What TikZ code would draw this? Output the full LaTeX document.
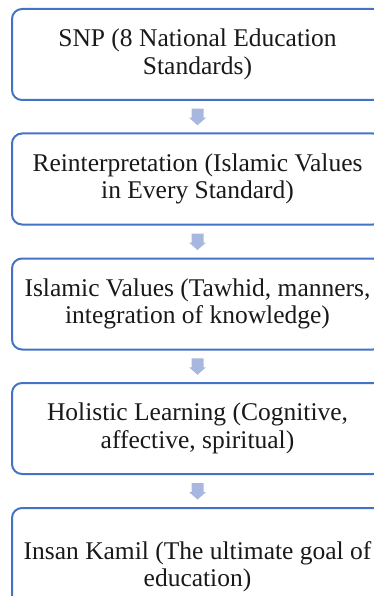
\documentclass[tikz,border=0pt]{standalone}
\usepackage{fontspec}
\setmainfont{Liberation Serif}
\usetikzlibrary{calc}
\definecolor{boxblue}{HTML}{4472C4}
\definecolor{arrowblue}{HTML}{A7B7DE}
\tikzset{
  stagebox/.style={draw=boxblue, line width=2pt, rounded corners=10pt, fill=white,
    minimum width=371pt, minimum height=91pt, align=center, inner sep=0pt,
    font=\fontsize{25.5}{27.5}\selectfont, text=black!90,
    execute at begin node={\vspace*{4pt}}},
  blockarrow/.style={fill=arrowblue, draw=none}
}
\newcommand{\downblock}[1]{%
  \fill[blockarrow] ($(#1)+(-6,-8)$) -- ($(#1)+(6,-8)$) -- ($(#1)+(6,1)$) -- ($(#1)+(8.5,1)$)
    -- ($(#1)+(0,8.5)$) -- ($(#1)+(-8.5,1)$) -- ($(#1)+(-6,1)$) -- cycle;}
\begin{document}
\begin{tikzpicture}[x=1pt,y=-1pt]
\useasboundingbox (0,0) rectangle (374,596);
\clip (0,0) rectangle (374,596);
\node[stagebox] (b1) at (197.5,54.5) {SNP (8 National Education\\Standards)};
\node[stagebox] (b2) at (197.5,179) {Reinterpretation (Islamic Values\\in Every Standard)};
\node[stagebox] (b3) at (197.5,304) {Islamic Values (Tawhid, manners,\\integration of knowledge)};
\node[stagebox] (b4) at (197.5,428.5) {Holistic Learning (Cognitive,\\affective, spiritual)};
\node[stagebox, minimum height=117pt] (b5) at (197.5,566.5) {Insan Kamil (The ultimate goal of\\education)};
\coordinate (a1) at ($(b1.south)!0.5!(b2.north)$);
\coordinate (a2) at ($(b2.south)!0.5!(b3.north)$);
\coordinate (a3) at ($(b3.south)!0.5!(b4.north)$);
\coordinate (a4) at ($(b4.south)!0.5!(b5.north)$);
\downblock{a1}
\downblock{a2}
\downblock{a3}
\downblock{a4}
\end{tikzpicture}
\end{document}
